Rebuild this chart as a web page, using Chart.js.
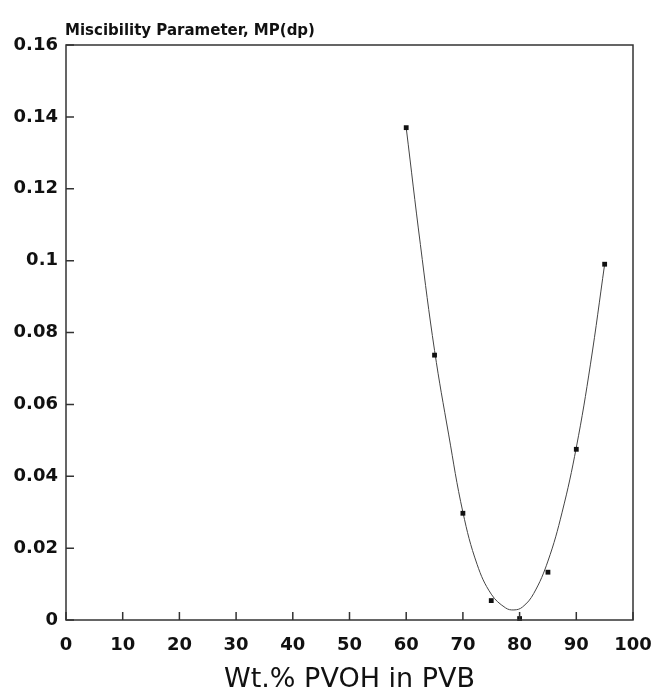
<!DOCTYPE html>
<html>
<head>
<meta charset="utf-8">
<script src="https://cdn.jsdelivr.net/npm/chart.js@4.4.0/dist/chart.umd.min.js"></script>
<style>
  html, body { margin: 0; padding: 0; background: #fff; }
</style>
</head>
<body>
<canvas id="grafico" width="653" height="695"></canvas>
<script>
// datos
const puntosX = [60, 65, 70, 75, 80, 85, 90, 95];
const puntosY = [0.137, 0.0737, 0.0297, 0.0054, 0.0004, 0.0133, 0.0475, 0.099];

// curva ajustada (leida a ojo)
const curvaX = [60, 62.5, 65, 67.5, 70, 72.5, 75, 77.5, 79, 80.5, 82.5, 85, 87.5, 90, 92.5, 95];
const curvaY = [0.137, 0.1045, 0.075, 0.0515, 0.030, 0.0155, 0.0072, 0.0034, 0.0028, 0.0036, 0.0074, 0.0164, 0.030, 0.048, 0.0712, 0.099];

const ticksX = [0, 10, 20, 30, 40, 50, 60, 70, 80, 90, 100];
const etiquetasX = ['0', '10', '20', '30', '40', '50', '60', '70', '80', '90', '100'];
const ticksY = [0, 0.02, 0.04, 0.06, 0.08, 0.1, 0.12, 0.14, 0.16];
const etiquetasY = ['0', '0.02', '0.04', '0.06', '0.08', '0.1', '0.12', '0.14', '0.16'];

const tituloY = 'Miscibility Parameter, MP(dp)';
const tituloX = 'Wt.% PVOH in PVB';

const fuente = '"DejaVu Sans", "Liberation Sans", sans-serif';

// marco del grafico, ticks hacia dentro y titulo de arriba
const marco = {
  id: 'marco',
  afterDraw(chart) {
    const { ctx, chartArea: a, scales: { x, y } } = chart;
    ctx.save();
    ctx.strokeStyle = '#333';
    ctx.lineWidth = 1.5;
    ctx.strokeRect(a.left, a.top, a.right - a.left, a.bottom - a.top);
    ctx.beginPath();
    x.ticks.forEach(t => {
      const px = x.getPixelForValue(t.value);
      ctx.moveTo(px, a.bottom);
      ctx.lineTo(px, a.bottom - 8);
    });
    y.ticks.forEach(t => {
      const py = y.getPixelForValue(t.value);
      ctx.moveTo(a.left, py);
      ctx.lineTo(a.left + 8, py);
    });
    ctx.stroke();
    ctx.fillStyle = '#111';
    ctx.font = 'bold 15px ' + fuente;
    ctx.textAlign = 'left';
    ctx.textBaseline = 'alphabetic';
    ctx.fillText(tituloY, a.left - 1, a.top - 10);
    ctx.restore();
  }
};

const Canvas = document.getElementById('grafico');

const grafico = new Chart(Canvas, {
  type: 'scatter',
  data: {
    datasets: [{
      label: 'puntos',
      data: puntosX.map((v, i) => ({ x: v, y: puntosY[i] })),
      pointStyle: 'rect',
      pointRadius: 3.4,
      backgroundColor: '#111',
      borderColor: '#111',
      borderWidth: 0,
      showLine: false,
      clip: false
    }, {
      label: 'curva',
      data: curvaX.map((v, i) => ({ x: v, y: curvaY[i] })),
      showLine: true,
      pointRadius: 0,
      borderColor: '#444',
      borderWidth: 1,
      tension: 0.4,
      fill: false
    }]
  },
  options: {
    responsive: false,
    animation: false,
    layout: { padding: { top: 45, right: 20, left: 0, bottom: 0 } },
    plugins: { legend: { display: false }, tooltip: { enabled: false } },
    scales: {
      x: {
        type: 'linear',
        min: 0,
        max: 100,
        grid: { display: false, drawTicks: false },
        border: { display: false },
        afterBuildTicks: s => { s.ticks = ticksX.map(v => ({ value: v })); },
        afterFit: s => { s.height = 75; s.paddingRight = 0; s.paddingLeft = 0; },
        ticks: {
          padding: 15,
          color: '#111',
          font: { family: fuente, size: 18, weight: 'bold' },
          callback: (v, i) => etiquetasX[i]
        },
        title: {
          display: true,
          text: tituloX,
          color: '#111',
          font: { family: fuente, size: 27, lineHeight: 1.1 },
          padding: { top: 0, bottom: 0 }
        }
      },
      y: {
        type: 'linear',
        min: 0,
        max: 0.16,
        grid: { display: false, drawTicks: false },
        border: { display: false },
        afterBuildTicks: s => { s.ticks = ticksY.map(v => ({ value: v })); },
        afterFit: s => { s.width = 66; },
        ticks: {
          padding: 8,
          color: '#111',
          font: { family: fuente, size: 18, weight: 'bold' },
          callback: (v, i) => etiquetasY[i]
        }
      }
    }
  },
  plugins: [marco]
});
</script>
</body>
</html>
